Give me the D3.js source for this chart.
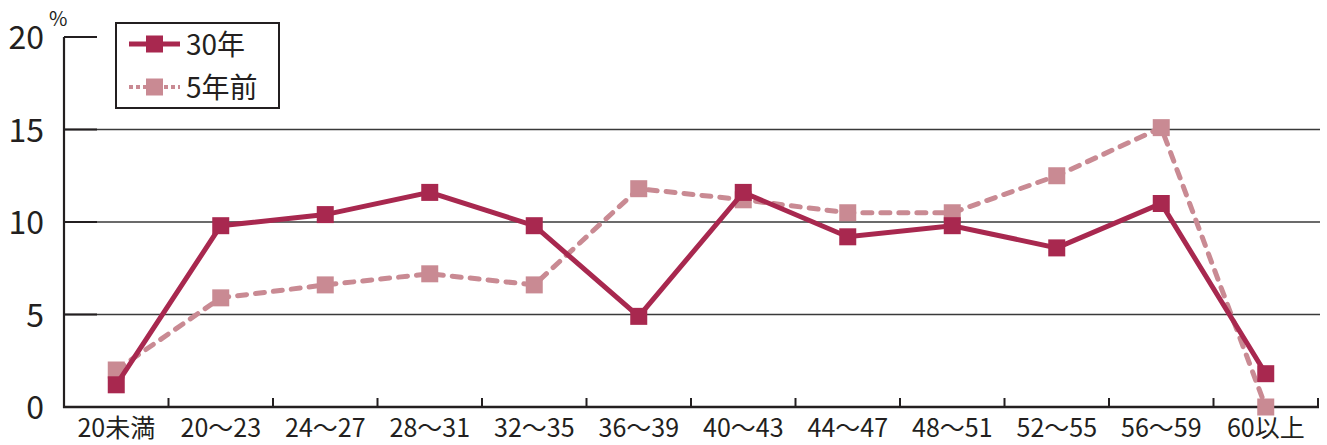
<!DOCTYPE html>
<html>
<head>
<meta charset="utf-8">
<script src="https://cdn.jsdelivr.net/npm/d3@7"></script>
<style>
  body { margin: 0; background: #fff; }
  svg text { font-family: "Noto Sans CJK JP", "Noto Sans", sans-serif; fill: #231f20; }
</style>
</head>
<body>
<div id="chart"></div>
<script>
const categories = ["20未満", "20〜23", "24〜27", "28〜31", "32〜35", "36〜39", "40〜43", "44〜47", "48〜51", "52〜55", "56〜59", "60以上"];
const now30 = [1.2, 9.8, 10.4, 11.6, 9.8, 4.9, 11.6, 9.2, 9.8, 8.6, 11.0, 1.8];
const before5 = [2.0, 5.9, 6.6, 7.2, 6.6, 11.8, 11.2, 10.5, 10.5, 12.5, 15.1, 0];
const yTicks = [0, 5, 10, 15, 20];
const seriesNames = ["30年", "5年前"];

const width = 1327, height = 445;
const margin = { left: 64, right: 9, top: 37, bottom: 38 };
const darkColor = "#a8284f";
const pinkColor = "#c98a93";

const svg = d3.select("#chart").append("svg")
  .attr("width", width)
  .attr("height", height);

const x = d3.scaleBand()
  .domain(categories)
  .range([margin.left, width - margin.right]);

const y = d3.scaleLinear()
  .domain([0, 20])
  .range([height - margin.bottom, margin.top]);

// gridlines
svg.append("g")
  .selectAll("line")
  .data(yTicks.filter(d => d > 0 && d < 20))
  .enter().append("line")
  .attr("x1", margin.left)
  .attr("x2", width - margin.right + 2)
  .attr("y1", d => y(d))
  .attr("y2", d => y(d))
  .attr("stroke", "#3a3a3a")
  .attr("stroke-width", 1.3);

// y axis
const yAxis = svg.append("g");
yAxis.append("line")
  .attr("x1", margin.left).attr("x2", margin.left)
  .attr("y1", y(20)).attr("y2", y(0) + 1)
  .attr("stroke", "#231f20").attr("stroke-width", 2.2);
yAxis.selectAll(".tick")
  .data(yTicks.filter(d => d > 0))
  .enter().append("line")
  .attr("x1", margin.left).attr("x2", margin.left + 33)
  .attr("y1", d => y(d)).attr("y2", d => y(d))
  .attr("stroke", "#231f20").attr("stroke-width", 2);
yAxis.selectAll("text")
  .data(yTicks)
  .enter().append("text")
  .attr("x", 44)
  .attr("y", d => y(d) + 12)
  .attr("text-anchor", "end")
  .style("font-size", "32px")
  .text(d => d);
svg.append("text")
  .attr("x", 49).attr("y", 26)
  .style("font-size", "20px")
  .text("%");

// x axis
const xAxis = svg.append("g")
  .attr("transform", `translate(0,${y(0)})`)
  .call(d3.axisBottom(x).tickSize(0).tickPadding(12));
xAxis.select(".domain").remove();
xAxis.selectAll("text")
  .style("font-size", "25px")
  .style("font-family", "'Noto Sans CJK JP', sans-serif")
  .attr("fill", "#231f20");
svg.append("line")
  .attr("x1", margin.left - 1).attr("x2", width - margin.right + 1)
  .attr("y1", y(0)).attr("y2", y(0))
  .attr("stroke", "#231f20").attr("stroke-width", 2.6);
const boundaries = categories.map(c => x(c)).slice(1).concat([x.range()[1]]);
svg.append("g").selectAll("line")
  .data(boundaries)
  .enter().append("line")
  .attr("x1", d => d).attr("x2", d => d)
  .attr("y1", y(0)).attr("y2", y(0) - 9)
  .attr("stroke", "#231f20").attr("stroke-width", 2);

const cx = (d, i) => x(categories[i]) + x.bandwidth() / 2;
const line = d3.line().x(cx).y(d => y(d));
const ms = 17;

// 5年前 series
svg.append("path")
  .datum(before5)
  .attr("d", line)
  .attr("fill", "none")
  .attr("stroke", pinkColor)
  .attr("stroke-width", 5)
  .attr("stroke-linecap", "round")
  .attr("stroke-dasharray", "9,9");
svg.append("g").selectAll("rect")
  .data(before5)
  .enter().append("rect")
  .attr("x", (d, i) => cx(d, i) - ms / 2)
  .attr("y", d => y(d) - ms / 2)
  .attr("width", ms).attr("height", ms)
  .attr("fill", pinkColor);

// 30年 series
svg.append("path")
  .datum(now30)
  .attr("d", line)
  .attr("fill", "none")
  .attr("stroke", darkColor)
  .attr("stroke-width", 5);
svg.append("g").selectAll("rect")
  .data(now30)
  .enter().append("rect")
  .attr("x", (d, i) => cx(d, i) - ms / 2)
  .attr("y", d => y(d) - ms / 2)
  .attr("width", ms).attr("height", ms)
  .attr("fill", darkColor);

// legend
const legend = svg.append("g");
legend.append("rect")
  .attr("x", 116).attr("y", 23)
  .attr("width", 163).attr("height", 85)
  .attr("fill", "#fff")
  .attr("stroke", "#231f20").attr("stroke-width", 2);
const rows = [
  { name: seriesNames[0], color: darkColor, dash: null, yy: 44 },
  { name: seriesNames[1], color: pinkColor, dash: "4,3", yy: 87 }
];
rows.forEach(r => {
  legend.append("line")
    .attr("x1", 129).attr("x2", 180)
    .attr("y1", r.yy).attr("y2", r.yy)
    .attr("stroke", r.color)
    .attr("stroke-width", r.dash ? 4 : 5)
    .attr("stroke-dasharray", r.dash);
  legend.append("rect")
    .attr("x", 146).attr("y", r.yy - 8.5)
    .attr("width", ms).attr("height", ms)
    .attr("fill", r.color);
  legend.append("text")
    .attr("x", 186).attr("y", r.yy + 11)
    .style("font-size", "28px")
    .text(r.name);
});
</script>
</body>
</html>
